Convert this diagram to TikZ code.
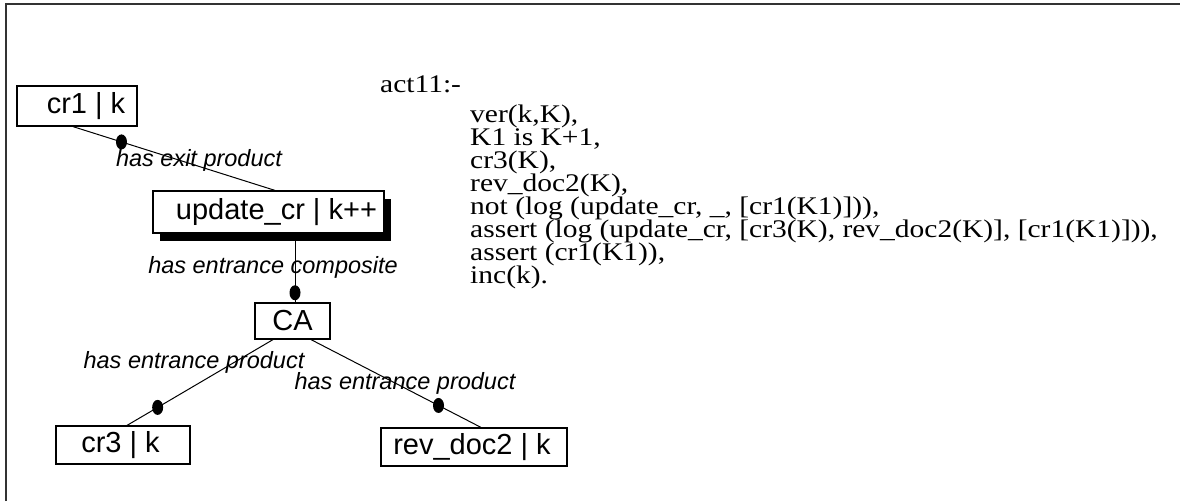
\documentclass[tikz,border=0pt]{standalone}
\usepackage{graphicx}
\usepackage{fontspec}
\setmainfont{Liberation Serif}
\newfontfamily\arialf{Liberation Sans}
\newcommand{\codesq}[1]{\scalebox{1}[0.86]{#1}}
\usetikzlibrary{shapes.geometric,shadows}
\begin{document}
\begin{tikzpicture}[x=1pt,y=-1pt,
  box/.style={draw, line width=1.2pt, inner sep=0pt, fill=white,
    font=\arialf\fontsize{29}{29}\selectfont},
  shbox/.style={box, drop shadow={shadow xshift=7pt, shadow yshift=-8pt, fill=black, opacity=1}},
  lbl/.style={font=\arialf\itshape\fontsize{23.5}{23.5}\selectfont, inner sep=0pt},
  code/.style={font=\fontsize{29.5}{29.5}\selectfont, inner sep=0pt, anchor=base west},
  dot/.style={ellipse, fill=black, inner sep=0pt, minimum width=11pt, minimum height=15pt},
  conn/.style={line width=1pt},
  frame/.style={line width=2pt, draw=black!80}
]
\useasboundingbox (0,0) rectangle (1180,501);
\draw[frame] (6,501) -- (6,4) -- (1180,4);

% boxes
\node[box, minimum width=120pt, minimum height=40pt] (cr1) at (77,106)
  {\makebox[120pt][c]{\hspace{18pt}cr1 | k}};
\node[shbox, minimum width=231pt, minimum height=42pt] (upd) at (268.5,212)
  {\makebox[231pt][c]{\hspace{16pt}update\_cr | k++}};
\node[box, minimum width=75pt, minimum height=36pt] (ca) at (292.5,321) {CA};
\node[box, minimum width=134pt, minimum height=38pt] (cr3) at (123,445)
  {\makebox[134pt][c]{cr3 | k\hspace{5pt}}};
\node[box, minimum width=186pt, minimum height=38pt] (rev) at (474,447)
  {\makebox[186pt][c]{rev\_doc2 | k\hspace{4pt}}};

% connectors
\draw[conn] ([xshift=-4pt]cr1.south) -- ([xshift=6.5pt]upd.north)
  node[dot, pos=0.24] (d1) {};
\draw[conn] ([xshift=2.5pt]ca.north |- upd.south) -- ([xshift=2.5pt]ca.north)
  node[dot, pos=0.86] (d2) {};
\draw[conn] ([xshift=-19.5pt]ca.south) -- ([xshift=4pt]cr3.north)
  node[dot, pos=0.79] (d3) {};
\draw[conn] ([xshift=18.5pt]ca.south) -- ([xshift=7pt]rev.north)
  node[dot, pos=0.75] (d4) {};

% labels
\node[lbl] (l1) at (199,160) {has exit product};
\node[lbl] (l2) at (273,267) {has entrance composite};
\node[lbl] (l3) at (194,362) {has entrance product};
\node[lbl] (l4) at (405,383) {has entrance product};

% code
\node[code] (c0) at (380,92) {\codesq{act11:-}};
\node[code] (c1) at (470,122) {\codesq{ver(k,K),}};
\node[code] (c2) at (470,145) {\codesq{K1 is K+1,}};
\node[code] (c3) at (470,168) {\codesq{cr3(K),}};
\node[code] (c4) at (470,191) {\codesq{rev\_doc2(K),}};
\node[code] (c5) at (470,214) {\codesq{not (log (update\_cr, \_, [cr1(K1)])),}};
\node[code] (c6) at (470,237) {\codesq{assert (log (update\_cr, [cr3(K), rev\_doc2(K)], [cr1(K1)])),}};
\node[code] (c7) at (470,260) {\codesq{assert (cr1(K1)),}};
\node[code] (c8) at (470,283) {\codesq{inc(k).}};
\end{tikzpicture}
\end{document}
